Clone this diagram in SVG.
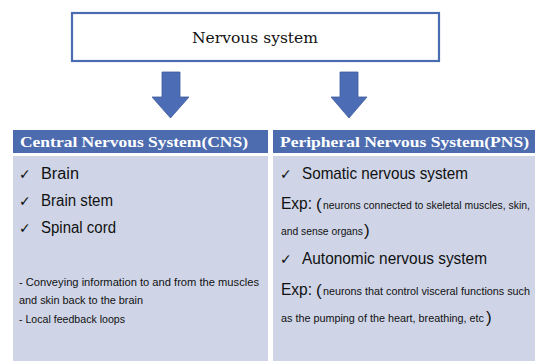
<svg xmlns="http://www.w3.org/2000/svg" width="535" height="361" viewBox="0 0 535 361">
<style>
.hdr{fill:#4d6cb0}
.body{fill:#cfd5e7}
.htxt{font-family:"Liberation Serif","DejaVu Serif",serif;font-weight:bold;font-size:15.5px;fill:#ffffff}
.chk{font-family:"DejaVu Sans",sans-serif;font-size:14px;fill:#111}
.item{font-family:"Liberation Sans",Arial,sans-serif;font-size:16px;fill:#111}
.big{font-family:"Liberation Sans",Arial,sans-serif;font-size:17px;fill:#111}
.sm{font-family:"Liberation Sans",Arial,sans-serif;font-size:10.5px;fill:#111}
.par{font-family:"Liberation Sans",Arial,sans-serif;font-size:11px;fill:#111}
.arrow{fill:#4c6db5;stroke:#3f5c9e;stroke-width:0.8}
</style>
<rect width="535" height="361" fill="#ffffff"/>
<g id="nervous-system">
<rect x="72" y="13" width="367" height="48" fill="#ffffff" stroke="#4a6cb0" stroke-width="2.2"/>
<text x="255" y="43" text-anchor="middle" font-family="DejaVu Serif,serif" font-size="15" fill="#111" textLength="126" lengthAdjust="spacingAndGlyphs">Nervous system</text>
</g>
<g id="connectors">
<polygon class="arrow" points="162,72 180,72 180,97 189,97 170.5,118 152,97 162,97"/>
<polygon class="arrow" points="340,72 358,72 358,97 367,97 349,118 331,97 340,97"/>
<path d="M131,236 H138 Q142,236 142,240 V258" fill="none" stroke="#4a6cb0" stroke-width="4"/>
<polygon points="137.5,257 146.5,257 142,265" fill="#4a6cb0"/>
</g>
<g id="cns">
<rect class="hdr" x="13" y="130" width="255" height="23"/>
<rect class="body" x="13" y="156" width="255" height="205"/>
<text class="htxt" x="20" y="147" textLength="228" lengthAdjust="spacingAndGlyphs">Central Nervous System(CNS)</text>
<text class="chk" x="19" y="179">✓</text>
<text class="item" x="41" y="179" textLength="38" lengthAdjust="spacingAndGlyphs">Brain</text>
<text class="chk" x="19" y="206">✓</text>
<text class="item" x="41" y="206" textLength="72" lengthAdjust="spacingAndGlyphs">Brain stem</text>
<text class="chk" x="19" y="233">✓</text>
<text class="item" x="41" y="233" textLength="75" lengthAdjust="spacingAndGlyphs">Spinal cord</text>
<text class="par" x="19" y="286" textLength="240" lengthAdjust="spacingAndGlyphs">- Conveying information to and from the muscles</text>
<text class="par" x="19" y="304" textLength="124" lengthAdjust="spacingAndGlyphs">and skin back to the brain</text>
<text class="par" x="19" y="323" textLength="106" lengthAdjust="spacingAndGlyphs">- Local feedback loops</text>
</g>
<g id="pns">
<rect class="hdr" x="273" y="130" width="262" height="23"/>
<rect class="body" x="273" y="156" width="262" height="205"/>
<text class="htxt" x="280" y="147" textLength="249" lengthAdjust="spacingAndGlyphs">Peripheral Nervous System(PNS)</text>
<text class="chk" x="280" y="179">✓</text>
<text class="big" x="302" y="179" textLength="166" lengthAdjust="spacingAndGlyphs">Somatic nervous system</text>
<text class="item" x="281" y="209" textLength="31" lengthAdjust="spacingAndGlyphs">Exp:</text>
<text class="big" x="316" y="210" font-size="18">(</text>
<text class="sm" x="323" y="209" textLength="207" lengthAdjust="spacingAndGlyphs">neurons connected to skeletal muscles, skin,</text>
<text class="sm" x="281" y="235" textLength="82" lengthAdjust="spacingAndGlyphs">and sense organs</text>
<text class="big" x="364" y="236" font-size="18">)</text>
<text class="chk" x="280" y="264">✓</text>
<text class="big" x="302" y="264" textLength="185" lengthAdjust="spacingAndGlyphs">Autonomic nervous system</text>
<text class="item" x="281" y="295" textLength="31" lengthAdjust="spacingAndGlyphs">Exp:</text>
<text class="big" x="316" y="296" font-size="18">(</text>
<text class="sm" x="323" y="295" textLength="207" lengthAdjust="spacingAndGlyphs">neurons that control visceral functions such</text>
<text class="sm" x="281" y="322" textLength="203" lengthAdjust="spacingAndGlyphs">as the pumping of the heart, breathing, etc</text>
<text class="big" x="486" y="323" font-size="18">)</text>
</g>
</svg>
